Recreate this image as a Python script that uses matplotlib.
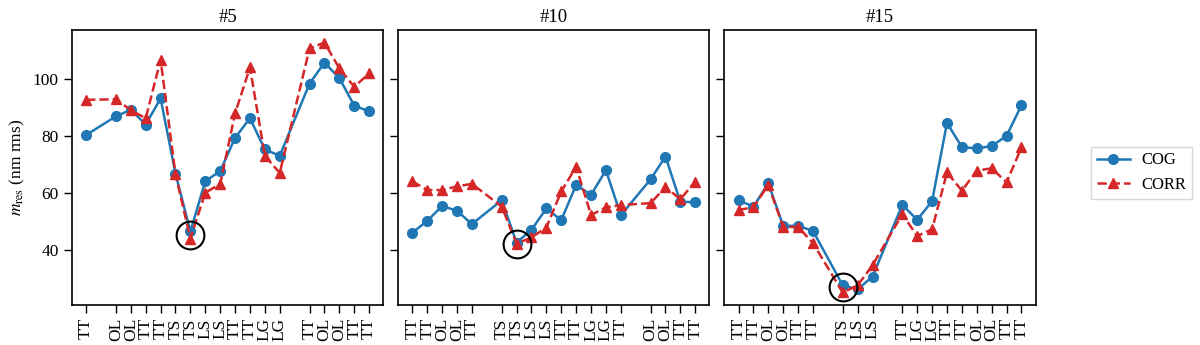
import numpy as np
import matplotlib
matplotlib.use("Agg")
import matplotlib.pyplot as plt

plt.rcParams["font.family"] = ["Liberation Serif", "DejaVu Serif"]
plt.rcParams["mathtext.fontset"] = "stix"
plt.rcParams["font.size"] = 12.5

# ── data ─────────────────────────────────────────────────────────────────────
titles = ["#5", "#10", "#15"]

pos_5 = [0, 2, 3, 4, 5, 6, 7, 8, 9, 10, 11, 12, 13, 15, 16, 17, 18, 19]
lab_5 = ["TT", "OL", "OL", "TT", "TT", "TS", "TS", "LS", "LS", "TT", "TT",
         "LG", "LG", "TT", "OL", "OL", "TT", "TT"]
cog_5 = [80.4, 87.0, 89.3, 84.1, 93.3, 66.8, 46.4, 64.1, 67.7, 79.4, 86.3,
         75.3, 73.1, 98.5, 105.9, 100.5, 90.8, 88.7]
corr_5 = [92.8, 93.0, 89.2, 86.3, 106.9, 66.6, 43.9, 60.1, 63.1, 88.0, 104.2,
          73.1, 67.0, 110.9, 113.0, 103.9, 97.4, 102.1]
best_5 = (7, 45.1)

pos_10 = [0, 1, 2, 3, 4, 6, 7, 8, 9, 10, 11, 12, 13, 14, 16, 17, 18, 19]
lab_10 = ["TT", "TT", "OL", "OL", "TT", "TS", "TS", "LS", "LS", "TT", "TT",
          "LG", "LG", "TT", "OL", "OL", "TT", "TT"]
cog_10 = [46.0, 50.1, 55.4, 53.7, 49.0, 57.4, 42.5, 47.0, 54.5, 50.4, 62.8,
          59.3, 68.0, 52.1, 64.8, 72.8, 56.8, 56.8]
corr_10 = [64.1, 61.0, 61.0, 62.3, 63.2, 55.2, 42.1, 44.3, 47.8, 60.5, 69.2,
           52.2, 54.9, 55.7, 56.4, 62.0, 57.8, 64.0]
best_10 = (7, 41.9)

pos_15 = [0, 1, 2, 3, 4, 5, 7, 8, 9, 11, 12, 13, 14, 15, 16, 17, 18, 19]
lab_15 = ["TT", "TT", "OL", "OL", "TT", "TT", "TS", "LS", "LS", "TT", "LG",
          "LG", "TT", "TT", "OL", "OL", "TT", "TT"]
cog_15 = [57.5, 55.1, 63.4, 48.4, 48.4, 46.6, 27.4, 26.0, 30.5, 55.8, 50.5,
          57.1, 84.7, 76.1, 75.7, 76.5, 80.1, 90.9]
corr_15 = [54.0, 54.9, 62.8, 48.0, 48.0, 42.3, 24.9, 27.4, 34.5, 52.5, 44.8,
           47.2, 67.2, 60.8, 67.8, 68.7, 63.7, 76.0]
best_15 = (7, 27.0)

panels = [
    (pos_5, lab_5, cog_5, corr_5, best_5),
    (pos_10, lab_10, cog_10, corr_10, best_10),
    (pos_15, lab_15, cog_15, corr_15, best_15),
]

# ── plot ─────────────────────────────────────────────────────────────────────
fig, axes = plt.subplots(1, 3, figsize=(12, 3.45), dpi=100, sharey=True)
fig.subplots_adjust(left=0.06, right=0.863, top=0.913, bottom=0.116, wspace=0.048)

for ax, title, (pos, lab, cog, corr, best) in zip(axes, titles, panels):
    ax.plot(pos, cog, "-o", color="#1f77b4", lw=1.8, ms=7, label="COG")
    ax.plot(pos, corr, "--^", color="#d62728", lw=1.8, ms=7, label="CORR")
    ax.plot([best[0]], [best[1]], "o", ms=20, mfc="none", mec="black", mew=1.5)
    ax.set_xticks(pos)
    ax.set_xticklabels(lab, rotation=90)
    ax.set_title(title, fontsize=13.5)
    ax.tick_params(direction="out", length=6, width=1)
    for s in ax.spines.values():
        s.set_linewidth(1.2)

axes[0].set_yticks([40, 60, 80, 100])
axes[0].set_ylabel(r"$m_{\mathrm{res}}$ (nm rms)")

h, l = axes[0].get_legend_handles_labels()
leg = fig.legend(h, l, loc="center left", bbox_to_anchor=(0.902, 0.5),
                 fancybox=False, edgecolor="#cccccc", fontsize=12,
                 handlelength=2.0, handletextpad=0.7, borderpad=0.35)

fig.savefig("out.png", dpi=100)
